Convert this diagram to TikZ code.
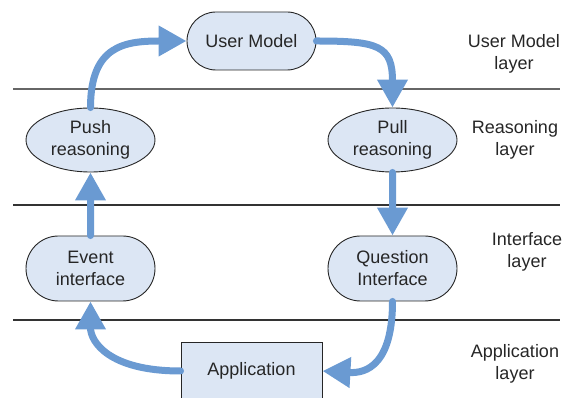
\documentclass[tikz,border=0pt]{standalone}
\usepackage{fontspec}
\setmainfont{Liberation Sans}
\usetikzlibrary{arrows.meta,shapes.misc,shapes.geometric}
\definecolor{flowblue}{HTML}{6A9AD2}
\definecolor{boxfill}{HTML}{DCE6F4}
\definecolor{inktext}{HTML}{262626}
\begin{document}
\begin{tikzpicture} [
                x=1pt, y=1pt,
                every node/.style={font=\fontsize{18}{22}\selectfont, text=inktext, align=center},
                module/.style={draw=black!85, fill=boxfill, line width=0.9pt, inner sep=0pt},
                stadium/.style={module, rounded rectangle, minimum width=129pt},
                reasoner/.style={module, ellipse, minimum width=129pt, minimum height=64pt},
                appbox/.style={module, rectangle, minimum width=141pt, minimum height=58pt},
                layer line/.style={draw=black!80, line width=1.3pt},
                flow/.style={draw=flowblue, line width=7pt, line cap=round,
                    -{Triangle[length=28pt,width=29pt]}},
            ]
            \useasboundingbox (0,0) rectangle (565,398);
            % First we draw the layer borders
            \foreach \y/\shade in {309/60, 193/80, 78/80}
                \path[layer line, draw=black!\shade] (13,\y) -- (560,\y);
            % Layer names on the right
            \node (l1) at (514,344) {User Model\\layer};
            \node (l2) at (515,258) {Reasoning\\layer};
            \node (l3) at (527,146) {Interface\\layer};
            \node (l4) at (515,34) {Application\\layer};
            % The modules
            \node[stadium, minimum height=58pt] (um) at (251.5,357) {User Model};
            \node[reasoner] (push) at (90.5,258) {Push\\reasoning};
            \node[reasoner] (pull) at (392.5,258) {Pull\\reasoning};
            \node[stadium, minimum height=65pt] (event) at (90.5,129.5) {Event\\interface};
            \node[stadium, minimum height=65pt] (question) at (392.5,129.5) {Question\\Interface};
            \node[appbox] (app) at (251.5,27) {Application};
            % Connect modules with the flow arrows
            \path[flow] (push.north) .. controls +(0,62) and +(-62,0) .. (um.west);
            \path[flow] (um.east) .. controls +(62,0) and +(0,62) .. (pull.north);
            \foreach \source/ \dest in {
                    pull/question, event/push}
                \path[flow] (\source) -- (\dest);
            \path[flow] (question.south) .. controls +(0,-72) and +(36,-2) .. (app.east);
            \path[flow] (app.west) .. controls +(-72,0) and +(0,-40) .. (event.south);
        \end{tikzpicture}
\end{document}
